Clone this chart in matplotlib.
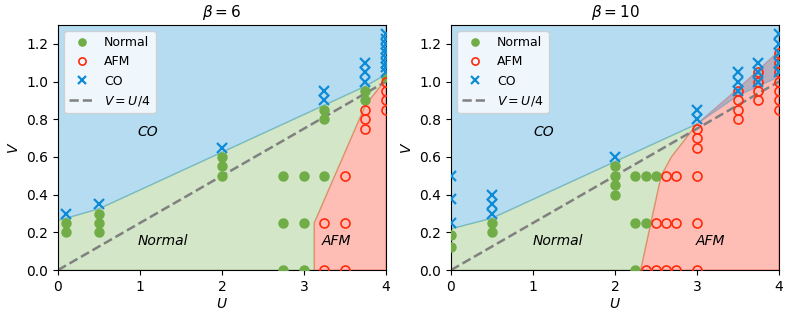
import matplotlib
matplotlib.use("Agg")
import matplotlib.pyplot as plt

# colours
c_normal = "#70ad47"
c_afm = "#ff2a0a"
c_co = "#0e8bd6"

# ---- beta = 6 ----
normal6_U = [0.1, 0.1, 0.5, 0.5, 0.5, 2, 2, 2, 2.75, 2.75, 2.75, 3, 3, 3,
             3.25, 3.25, 3.25, 3.75, 3.75, 4]
normal6_V = [0.25, 0.2, 0.3, 0.25, 0.2, 0.6, 0.55, 0.5, 0.5, 0.25, 0.0, 0.5, 0.25, 0.0,
             0.85, 0.8, 0.5, 0.95, 0.9, 1.025]
afm6_U = [3.25, 3.25, 3.5, 3.5, 3.5, 3.75, 3.75, 3.75, 4, 4, 4, 4]
afm6_V = [0.25, 0.0, 0.5, 0.25, 0.0, 0.85, 0.8, 0.75, 1.0, 0.95, 0.9, 0.85]
co6_U = [0.1, 0.5, 2, 3.25, 3.25, 3.75, 3.75, 3.75,
         4, 4, 4, 4, 4, 4, 4, 4, 4]
co6_V = [0.3, 0.35, 0.65, 0.95, 0.9, 1.1, 1.05, 1.0,
         1.05, 1.075, 1.1, 1.125, 1.15, 1.175, 1.2, 1.225, 1.25]
# phase boundaries
co6_bU = [0, 0.5, 2, 3.25, 3.75, 4]
co6_bV = [0.2625, 0.325, 0.625, 0.875, 0.975, 1.0375]
afm6_bU = [3.125, 3.125, 3.375, 3.75, 4]
afm6_bV = [0.0, 0.25, 0.5, 0.875, 1.0125]

# ---- beta = 10 ----
normal10_U = [0, 0, 0.5, 0.5, 2, 2, 2, 2, 2.25, 2.25, 2.25, 2.375, 2.375, 2.5]
normal10_V = [0.1875, 0.125, 0.25, 0.2, 0.55, 0.5, 0.45, 0.4, 0.5, 0.25, 0.0, 0.5, 0.25, 0.5]
afm10_U = [2.375, 2.5, 2.5, 2.625, 2.625, 2.625, 2.75, 2.75, 2.75,
           3, 3, 3, 3, 3, 3, 3.5, 3.5, 3.5, 3.5, 3.75, 3.75, 3.75, 3.75,
           4, 4, 4, 4, 4, 4, 4]
afm10_V = [0.0, 0.25, 0.0, 0.5, 0.25, 0.0, 0.5, 0.25, 0.0,
           0.75, 0.7, 0.65, 0.5, 0.25, 0.0, 0.95, 0.9, 0.85, 0.8, 1.05, 1.0, 0.95, 0.9,
           1.15, 1.1, 1.05, 1.0, 0.95, 0.9, 0.85]
co10_U = [0, 0, 0, 0.5, 0.5, 0.5, 2, 3, 3, 3.5, 3.5, 3.5, 3.75, 3.75, 3.75,
          4, 4, 4, 4, 4]
co10_V = [0.5, 0.375, 0.25, 0.4, 0.35, 0.3, 0.6, 0.85, 0.8, 1.05, 1.0, 0.95, 1.1, 1.05, 1.0,
          1.25, 1.2, 1.15, 1.1, 1.05]
co10_bU = [0, 0.5, 2, 3, 3.5, 3.75, 4]
co10_bV = [0.21875, 0.275, 0.575, 0.775, 0.925, 0.975, 1.025]
afm10_bU = [2.3125, 2.4375, 2.5625, 2.6875, 3, 3.5, 3.75, 4]
afm10_bV = [0.0, 0.25, 0.5, 0.6, 0.775, 0.9625, 1.0625, 1.1625]

Umax, Vmax = 4, 1.3


def draw_panel(ax, title, nU, nV, aU, aV, cU, cV, cbU, cbV, abU, abV, u_meet, labels):
    # regions
    co_poly = list(zip(cbU, cbV)) + [(Umax, Vmax), (0, Vmax)]
    afm_poly = list(zip(abU, abV)) + [(Umax, 0)]
    normal_poly = [(0, 0)] + [p for p in zip(abU, abV) if p[0] <= u_meet] \
        + [p for p in zip(cbU, cbV) if p[0] <= u_meet][::-1]
    for poly, c in [(normal_poly, c_normal), (afm_poly, c_afm), (co_poly, c_co)]:
        xs, ys = zip(*poly)
        ax.fill(xs, ys, color=c, alpha=0.3, lw=1, zorder=1)

    ax.plot(nU, nV, "o", color=c_normal, ms=6.5, ls="none", label="Normal", zorder=3)
    ax.plot(aU, aV, "o", mfc="none", mec=c_afm, mew=1.2, ms=6.5, ls="none",
            label="AFM", zorder=3)
    ax.plot(cU, cV, "x", color=c_co, ms=6.5, mew=1.6, ls="none", label="CO", zorder=3)
    ax.plot([0, Umax], [0, Umax / 4], "--", color="grey", lw=1.8,
            label="$V=U/4$", zorder=2)

    for (x, y, s) in labels:
        ax.text(x, y, s, style="italic", ha="center", va="center", fontsize=10)

    ax.set_xlim(0, Umax)
    ax.set_ylim(0, Vmax)
    ax.set_xticks([0, 1, 2, 3, 4])
    ax.set_yticks([0, 0.2, 0.4, 0.6, 0.8, 1.0, 1.2])
    ax.set_xlabel("$U$", labelpad=2)
    ax.set_ylabel("$V$")
    ax.set_title(title, fontsize=11)
    ax.legend(loc="upper left", fontsize=9, markerscale=0.8)


fig = plt.figure(figsize=(7.89, 3.2), dpi=100)
ax1 = fig.add_axes([0.0735, 0.156, 0.4157, 0.766])
ax2 = fig.add_axes([0.5716, 0.156, 0.4157, 0.766])

draw_panel(ax1, r"$\beta=6$", normal6_U, normal6_V, afm6_U, afm6_V, co6_U, co6_V,
           co6_bU, co6_bV, afm6_bU, afm6_bV, 4,
           [(1.1, 0.73, "CO"), (1.28, 0.155, "Normal"), (3.4, 0.155, "AFM")])
draw_panel(ax2, r"$\beta=10$", normal10_U, normal10_V, afm10_U, afm10_V, co10_U, co10_V,
           co10_bU, co10_bV, afm10_bU, afm10_bV, 3,
           [(1.13, 0.73, "CO"), (1.3, 0.155, "Normal"), (3.16, 0.155, "AFM")])

plt.savefig("out.png", dpi=100)
